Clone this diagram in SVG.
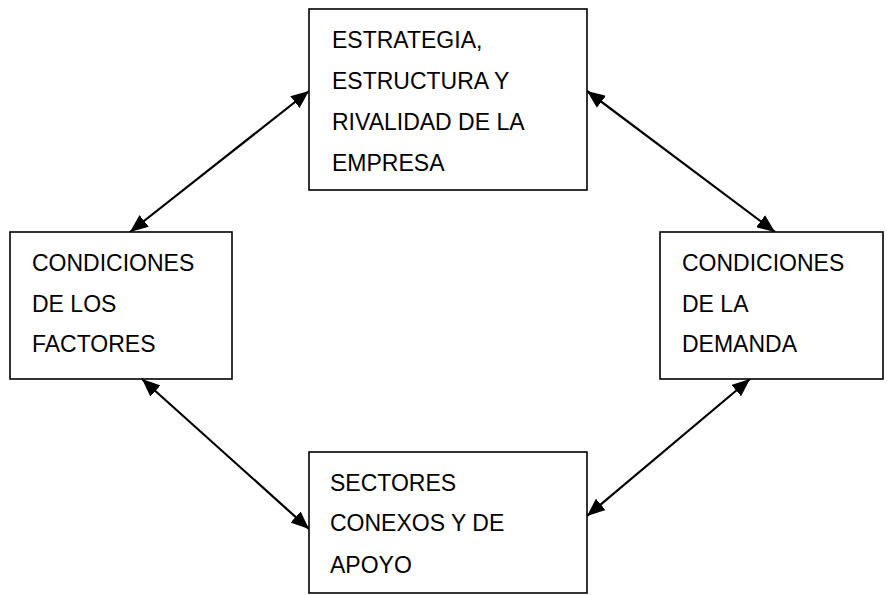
<svg xmlns="http://www.w3.org/2000/svg" width="887" height="595" viewBox="0 0 887 595">
<style>
.box{fill:#fff;stroke:#000;stroke-width:1.6}
.lbl{font-family:"Liberation Sans",Arial,sans-serif;font-size:23px;fill:#000}
.con{stroke:#000;stroke-width:2.2;fill:none;marker-start:url(#ah);marker-end:url(#ah)}
</style>
<defs>
<marker id="ah" markerUnits="userSpaceOnUse" markerWidth="19" markerHeight="15" refX="18" refY="7.5" orient="auto-start-reverse" viewBox="0 0 19 15">
<path d="M0,0 L18,7.5 L0,15 z" fill="#000"/>
</marker>
</defs>
<rect width="887" height="595" fill="#fff"/>
<g id="connectors">
<line class="con" x1="309" y1="91" x2="130" y2="232"/>
<line class="con" x1="587" y1="91" x2="775" y2="232"/>
<line class="con" x1="142" y1="379" x2="309" y2="529"/>
<line class="con" x1="750" y1="379" x2="587" y2="516"/>
</g>
<g id="estrategia">
<rect class="box" x="309" y="9" width="278" height="181"/>
<text class="lbl" x="332" y="48">ESTRATEGIA,</text>
<text class="lbl" x="332" y="89">ESTRUCTURA Y</text>
<text class="lbl" x="332" y="130">RIVALIDAD DE LA</text>
<text class="lbl" x="332" y="171">EMPRESA</text>
</g>
<g id="factores">
<rect class="box" x="10" y="232" width="222" height="147"/>
<text class="lbl" x="32" y="271">CONDICIONES</text>
<text class="lbl" x="32" y="312">DE LOS</text>
<text class="lbl" x="32" y="352">FACTORES</text>
</g>
<g id="demanda">
<rect class="box" x="660" y="232" width="223" height="147"/>
<text class="lbl" x="682" y="271">CONDICIONES</text>
<text class="lbl" x="682" y="312">DE LA</text>
<text class="lbl" x="682" y="352">DEMANDA</text>
</g>
<g id="sectores">
<rect class="box" x="309" y="452" width="278" height="141"/>
<text class="lbl" x="330" y="491">SECTORES</text>
<text class="lbl" x="330" y="531">CONEXOS Y DE</text>
<text class="lbl" x="330" y="573">APOYO</text>
</g>
</svg>
